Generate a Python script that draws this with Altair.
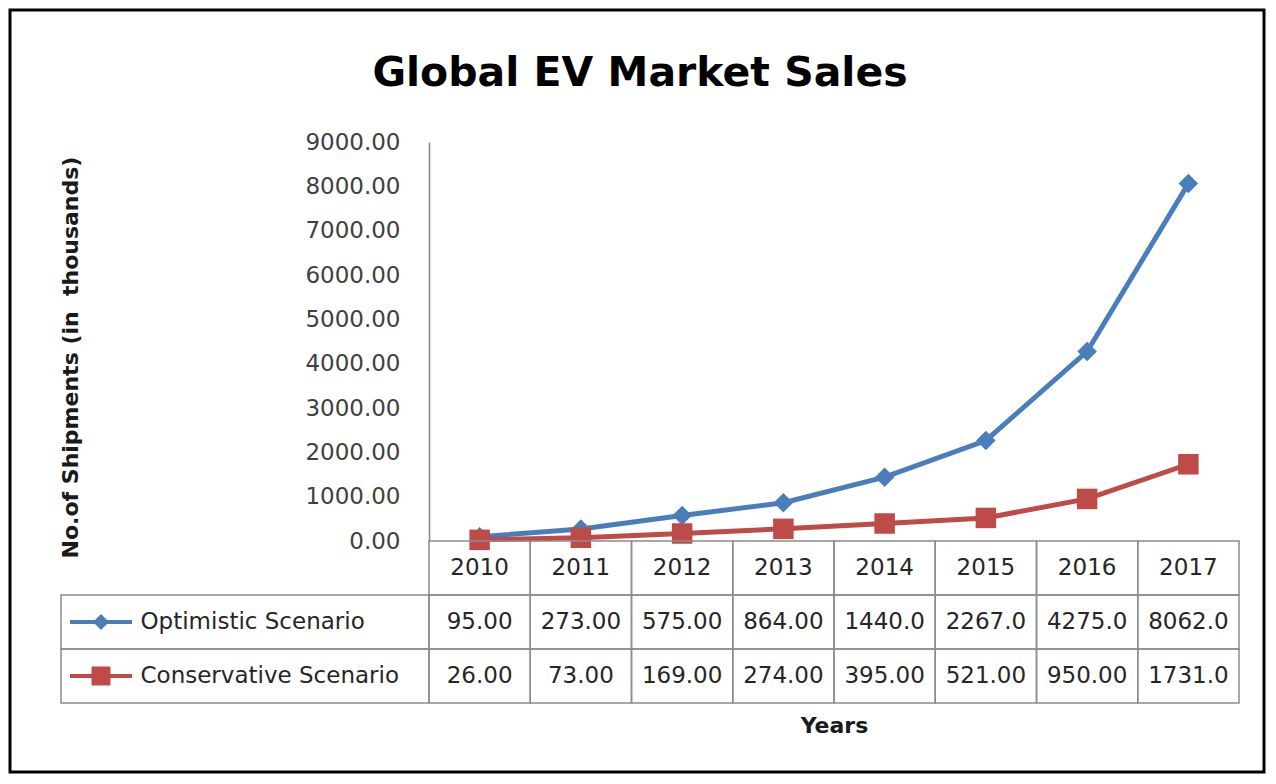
import altair as alt
import pandas as pd

# ---------------- data ----------------
years = ["2010", "2011", "2012", "2013", "2014", "2015", "2016", "2017"]
optimistic = [95, 273, 575, 864, 1440, 2267, 4275, 8062]
conservative = [26, 73, 169, 274, 395, 521, 950, 1731]
series_names = ["Optimistic Scenario", "Conservative Scenario"]
y_ticks = [0, 1000, 2000, 3000, 4000, 5000, 6000, 7000, 8000, 9000]
title_text = ["Global EV Market Sales"]
y_title = "No.of Shipments (in\u00a0\u00a0thousands)"
x_title = "Years"

series_colors = ["#4A7EBB", "#BE4B48"]
marker_shapes = ["diamond", "square"]

FONT = "DejaVu Sans"
W, H = 810, 399
ROW_H = 54

rows = []
for name, vals in zip(series_names, [optimistic, conservative]):
    for yr, v in zip(years, vals):
        rows.append({"year": yr, "series": name, "row": name, "value": v})
df = pd.DataFrame(rows)

table_rows = [{"year": yr, "series": "", "row": "year", "value": None} for yr in years] + rows
tdf = pd.DataFrame(table_rows)
legend_df = pd.DataFrame({"row": series_names, "series": series_names})
one = pd.DataFrame({"t": title_text})

color_scale = alt.Scale(domain=series_names, range=series_colors)
shape_scale = alt.Scale(domain=series_names, range=marker_shapes)

# ---------------- top: line chart ----------------
x_top = alt.X("year:O", scale=alt.Scale(type="point", domain=years, padding=0.5), axis=None)
y_top = alt.Y(
    "value:Q",
    scale=alt.Scale(domain=[0, 9000], nice=False),
    axis=alt.Axis(
        values=y_ticks, format=".2f", grid=False, ticks=False, tickSize=0,
        labelPadding=29, labelFont=FONT, labelFontSize=23, labelColor="#404040",
        domainColor="#868686", domainWidth=1.5,
        title=y_title, titleFont=FONT, titleFontSize=22, titleFontWeight="bold",
        titleColor="#1a1a1a", titleAngle=270, titleX=-359, titleY=215,
        titleAlign="center", titleBaseline="middle",
    ),
)

frame = alt.Chart(one).mark_rect(fill="white", fillOpacity=0, stroke="#000000", strokeWidth=3).encode(
    x=alt.value(-419), x2=alt.value(835), y=alt.value(-132), y2=alt.value(630)
)

title = alt.Chart(one).mark_text(
    font=FONT, fontSize=41, fontWeight="bold", align="center", baseline="alphabetic", color="#000000"
).encode(text="t:N", x=alt.value(211), y=alt.value(-56))

lines = alt.Chart(df).mark_line(strokeWidth=5).encode(
    x=x_top, y=y_top,
    color=alt.Color("series:N", scale=color_scale, legend=None),
)

points = alt.Chart(df).mark_point(filled=True, opacity=1).encode(
    x=x_top, y=y_top,
    color=alt.Color("series:N", scale=color_scale, legend=None),
    shape=alt.Shape("series:N", scale=shape_scale, legend=None),
    size=alt.Size("series:N", scale=alt.Scale(domain=series_names, range=[380, 420]), legend=None),
)

top = alt.layer(frame, title, lines, points).properties(width=W, height=H)

# ---------------- bottom: data table ----------------
x_tab = alt.X(
    "year:O",
    scale=alt.Scale(type="band", domain=years, paddingInner=0, paddingOuter=0),
    axis=alt.Axis(
        labels=False, ticks=False, domain=False, title=x_title,
        titleFont=FONT, titleFontSize=22, titleFontWeight="bold", titleColor="#1a1a1a",
        titlePadding=12,
    ),
)
y_scale_tab = alt.Scale(type="band", domain=["year"] + series_names, paddingInner=0, paddingOuter=0)
y_tab = alt.Y(
    "row:N", scale=y_scale_tab,
    axis=alt.Axis(
        values=series_names, labelAlign="left", labelPadding=289, ticks=False, tickSize=0,
        domain=False, labelFont=FONT, labelFontSize=23, labelColor="#262626",
        labelLimit=500, title=None,
    ),
)

cells = alt.Chart(tdf).mark_rect(fill="white", fillOpacity=0, stroke="#8c8c8c", strokeWidth=1.5).encode(
    x=x_tab, y=y_tab
)

legend_cells = alt.Chart(legend_df).mark_rect(fill="white", fillOpacity=0, stroke="#8c8c8c", strokeWidth=1.5).encode(
    x=alt.value(-368), x2=alt.value(0), y=alt.Y("row:N", scale=y_scale_tab)
)

legend_lines = alt.Chart(legend_df).mark_rule(strokeWidth=4).encode(
    x=alt.value(-359), x2=alt.value(-297), y=alt.Y("row:N", scale=y_scale_tab),
    color=alt.Color("series:N", scale=color_scale, legend=None),
)

legend_marks = alt.Chart(legend_df).mark_point(filled=True, opacity=1).encode(
    x=alt.value(-328), y=alt.Y("row:N", scale=y_scale_tab),
    color=alt.Color("series:N", scale=color_scale, legend=None),
    shape=alt.Shape("series:N", scale=shape_scale, legend=None),
    size=alt.Size("series:N", scale=alt.Scale(domain=series_names, range=[260, 360]), legend=None),
)

texts = alt.Chart(tdf).transform_calculate(
    label="datum.row == 'year' ? datum.year : substring(format(datum.value, '.2f'), 0, 6)"
).mark_text(font=FONT, fontSize=23, color="#262626").encode(
    x=x_tab, y=alt.Y("row:N", scale=y_scale_tab), text="label:N"
)

table = alt.layer(cells, legend_cells, legend_lines, legend_marks, texts).properties(
    width=W, height=ROW_H * 3
)

chart = alt.vconcat(top, table, spacing=0, bounds="flush").resolve_scale(
    x="independent", y="independent", color="independent", shape="independent", size="independent"
).properties(padding=0, background="white").configure_view(stroke=None)

chart.save("out.html", embed_options={"renderer": "svg", "actions": False})
